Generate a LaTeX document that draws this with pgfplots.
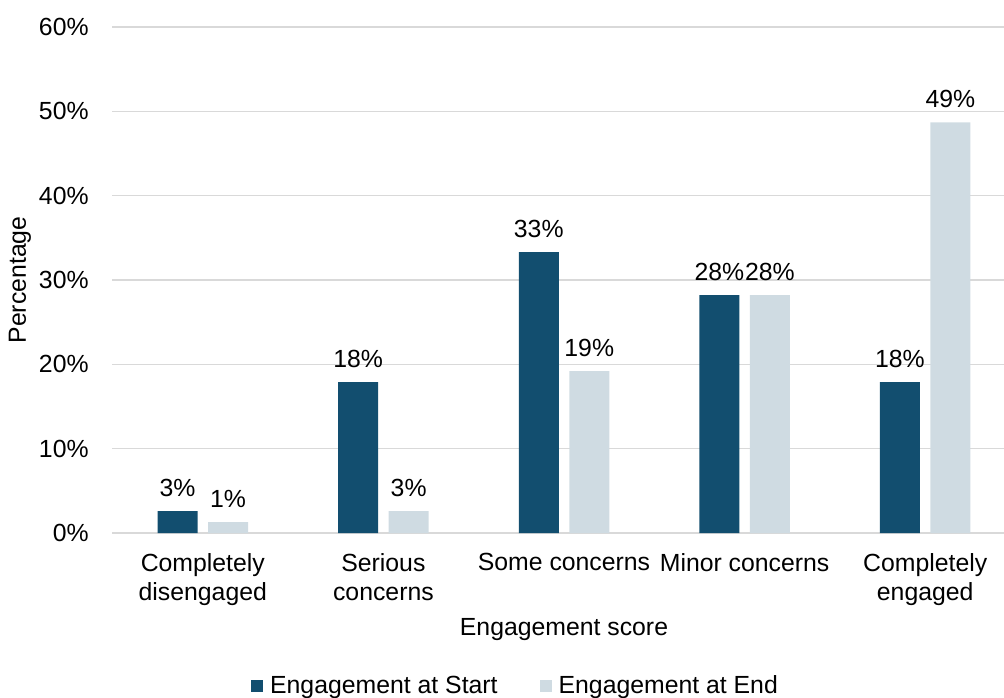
\documentclass[border=0pt]{standalone}
\usepackage{fontspec}
\setmainfont{Liberation Sans}
\usepackage{pgfplots}
\pgfplotsset{compat=1.18}
\definecolor{darkbar}{HTML}{124E6F}
\definecolor{lightbar}{HTML}{CFDBE2}
\definecolor{gridc}{HTML}{D9D9D9}
\begin{document}
\begin{tikzpicture}[font=\fontsize{12.4}{14.5}\selectfont]
\begin{axis}[
  at={(0pt,0pt)}, anchor=south west,
  scale only axis,
  width=451.5pt, height=253pt,
  xmin=-0.5, xmax=4.5,
  ymin=0, ymax=60,
  ybar=5.25pt, bar width=20pt,
  xtick={0,1,2,3,4},
  xticklabels={{Completely\\disengaged},{Serious\\concerns},{Some concerns},{Minor concerns},{Completely\\engaged}},
  xticklabel style={align=center, anchor=north, inner sep=0pt, yshift=-10pt},
  ytick={0,10,20,30,40,50,60},
  yticklabel={\pgfmathprintnumber{\tick}\%},
  yticklabel style={anchor=east, inner sep=0pt, xshift=-11.75pt},
  /pgf/number format/assume math mode=true,
  major tick length=0pt,
  axis line style={draw=none},
  ymajorgrids,
  grid style={gridc, line width=0.75pt},
  xlabel={Engagement score},
  ylabel={Percentage},
  every axis x label/.style={at={(axis description cs:0.5,-0.1917)}, anchor=center},
  every axis y label/.style={at={(axis description cs:-0.1024,0.5)}, anchor=center, rotate=90},
  nodes near coords={\pgfmathprintnumber[fixed,precision=0]{\pgfplotspointmeta}\%},
  nodes near coords style={anchor=south, inner sep=0pt, yshift=7pt},
  legend columns=2,
  legend style={draw=none, fill=none, at={(axis description cs:0.4474,-0.3024)}, anchor=center,
    /tikz/every odd column/.append style={column sep=1.5pt},
    /tikz/every even column/.append style={column sep=19pt}},
  legend image code/.code={\fill[#1] (0pt,-3pt) rectangle (6pt,3pt);},
  clip=false,
]
\addplot[fill=darkbar, draw=none] coordinates {(0,2.6) (1,17.9) (2,33.3) (3,28.2) (4,17.9)};
\addplot[fill=lightbar, draw=none] coordinates {(0,1.3) (1,2.6) (2,19.2) (3,28.2) (4,48.7)};
\legend{Engagement at Start, Engagement at End}
\end{axis}
\pgfresetboundingbox
\useasboundingbox (-56.25pt,-82pt) rectangle (445.75pt,266.5pt);
\end{tikzpicture}
\end{document}
